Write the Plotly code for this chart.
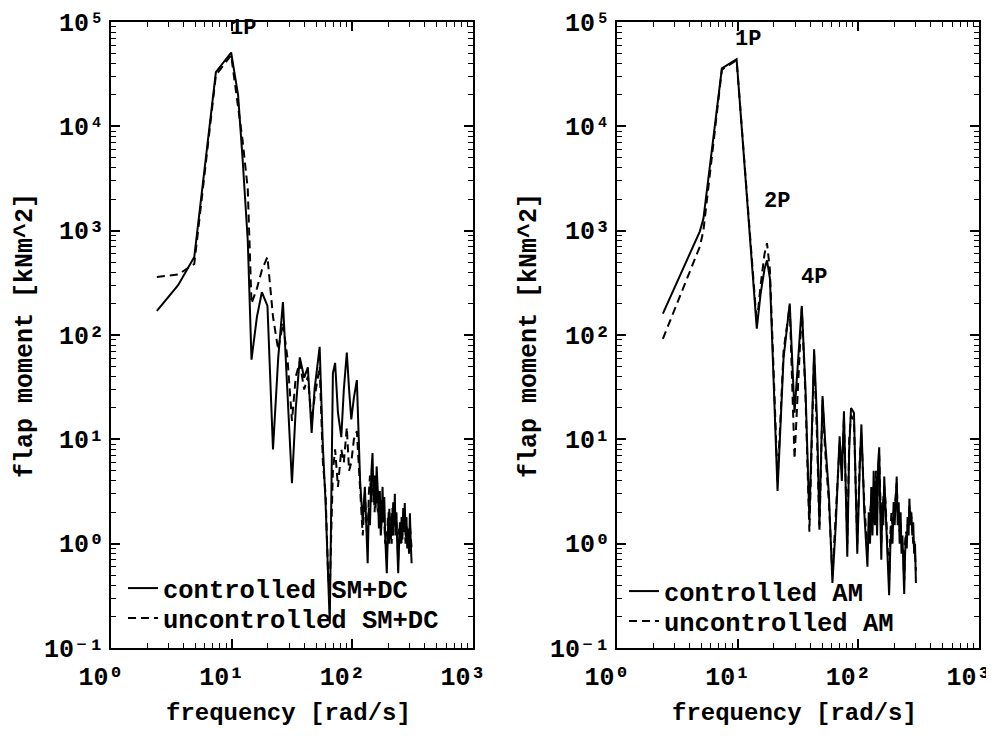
import numpy as np
import plotly.graph_objects as go

# ---------------- data ----------------
freq_left = [2.4, 3.6, 4.9, 7.4, 9.9, 11.3, 12.3, 13.6, 14.6, 16.2, 17.8, 19.8, 22.0, 24.3, 26.6,
             29.0, 31.6, 34.0, 36.7, 39.9, 42.8, 46.0, 48.6, 53.6, 57.0, 60.0, 63.0, 65.0, 69.0,
             72.0, 76.0, 81.0, 85.0, 90.0, 94.0, 98.0, 103.0, 109.0, 116.0, 122.0, 127.0, 132.0,
             134, 137, 140, 144, 147, 150, 153, 156, 159, 163, 166, 169, 172, 175, 178,
             181, 184, 187, 190, 193, 197, 200, 203, 206, 209, 212, 215, 218, 222, 225,
             228, 232, 236, 240, 244, 248, 252, 256, 260, 264, 268, 272, 276, 281, 285,
             290, 295, 300, 305, 310]
ctrl_left = [170, 300, 560, 33000, 51000, 20000, 5000, 800, 58, 150, 257, 190, 8, 60, 207,
             30, 3.8, 20, 61, 39, 49, 11.5, 30, 77, 8.5, 2.5, 0.5, 0.17, 43,
             54, 18, 10.5, 30, 68, 30, 15.5, 25, 37, 4, 1.6, 3.5, 1.2,
             0.65, 2.2, 1.5, 5, 7.4, 2.5, 4.5, 2.2, 5.5, 3.0, 1.4, 3.2, 1.2, 1.65, 3.5,
             1.6, 2.8, 1.2, 0.8, 0.52, 1.3, 2.0, 1.0, 1.6, 1.1, 1.96, 1.2, 2.5, 1.5, 3.0,
             1.2, 2.0, 0.9, 0.52, 1.0, 1.6, 1.0, 1.8, 1.1, 2.2, 1.3, 2.45, 1.2, 1.8, 0.9,
             1.4, 0.8, 1.96, 1.0, 0.65]
unctrl_left = [360, 380, 480, 31000, 48000, 15000, 7400, 2500, 200, 280, 420, 560, 150, 72, 130,
               60, 15, 40, 55, 30, 40, 15, 25, 50, 6, 3, 0.5, 0.35, 5,
               8, 3.5, 8, 6, 13, 5, 6, 10, 12, 3, 1.2, 3, 1.5,
               1.0, 3.0, 4.5, 2.5, 5, 3.5, 2.0, 4.2, 2.5, 2.0, 3.0, 1.5, 2.6, 2.5, 1.6,
               2.8, 1.4, 1.0, 1.3, 0.7, 1.8, 1.5, 2.2, 1.2, 1.8, 1.0, 2.2, 1.2, 2.5, 2.0,
               1.4, 1.6, 1.2, 0.7, 1.4, 1.2, 1.6, 1.0, 1.5, 1.3, 2.0, 1.6, 1.0, 1.5, 1.1,
               1.3, 1.0, 1.5, 1.2, 0.9]

freq_right = [2.4, 4.85, 5.2, 7.4, 9.8, 12.2, 14.4, 15.5, 16.7, 17.5, 18.5, 19.8, 21.4, 24.0,
              27.0, 29.6, 32.0, 34.0, 36.5, 39.3, 43.0, 45.5, 47.6, 50.5, 53.0, 57.0, 61.0,
              65.0, 70.0, 73.0, 76.0, 81.0, 84.0, 87.0, 92.0, 98.0, 103.0, 106.0, 112.0,
              119, 122, 125, 128, 131, 134, 137, 140, 143, 146, 149, 152, 155, 158, 161,
              164, 168, 172, 176, 180, 184, 188, 192, 196, 200, 204, 208, 212, 216, 220,
              224, 228, 232, 236, 240, 244, 248, 252, 256, 261, 265, 270, 275, 280, 285,
              290, 295, 300]
ctrl_right = [160, 980, 1300, 36000, 44000, 1600, 115, 250, 430, 520, 350, 40, 3.2, 60,
              200, 18, 60, 190, 30, 1.7, 73, 15, 1.5, 26, 10, 3, 0.42,
              1.5, 10.7, 4, 18.6, 0.75, 8, 20, 18, 0.8, 6, 13.9, 2,
              0.6, 2.0, 1.0, 3.5, 1.2, 5, 1.5, 4, 1.2, 6, 8.4, 2, 0.7, 2.5, 1.5,
              4.4, 2.0, 1.2, 0.6, 0.32, 0.9, 1.5, 1.0, 2.5, 1.5, 3.2, 4.4, 1.5, 2.5, 1.0,
              2.0, 0.8, 1.2, 0.6, 0.33, 0.8, 1.2, 0.9, 1.8, 1.2, 2.7, 1.5, 2.0, 1.2, 1.6,
              0.8, 1.0, 0.42]
unctrl_right = [92, 700, 1000, 35000, 43000, 1700, 130, 300, 600, 760, 420, 50, 4, 70,
                190, 6.5, 50, 180, 25, 1.3, 65, 10, 1.3, 24, 8, 2.5, 0.5,
                1.8, 9, 5, 16, 1.0, 10, 17, 15, 1.0, 7, 11, 2.5,
                0.8, 1.5, 2.0, 2.5, 1.6, 3.5, 2.5, 5, 2.0, 4, 7, 3, 1.0, 2.0, 2.5,
                3.5, 2.5, 1.5, 0.8, 0.45, 1.2, 2, 1.4, 2, 2.2, 2.8, 3.8, 2.0, 1.8, 1.3,
                1.6, 1.1, 1.0, 0.8, 0.45, 1.0, 1.3, 1.2, 1.5, 1.6, 2.3, 2.0, 1.8, 1.4, 1.0,
                1.1, 0.8, 0.55]

x_tickvals = [1, 10, 100, 1000]
x_ticktext = ["10⁰", "10¹", "10²", "10³"]
y_tickvals = [0.1, 1, 10, 100, 1000, 10000, 100000]
y_ticktext = ["10⁻¹", "10⁰", "10¹", "10²", "10³", "10⁴", "10⁵"]

peak_text_left = ["1P"]
peak_freq_left = [12.5]
peak_amp_left = [86000]
peak_text_right = ["1P", "2P", "4P"]
peak_freq_right = [12.2, 21.0, 43.3]
peak_amp_right = [68000, 1910, 358]

FONT = "Liberation Mono, Courier New, monospace"
W, H = 994, 745
OFF = 8  # page body margin of the html page, in px


def px_x(p):
    return (p - OFF) / W


def px_y(p):
    return 1 - (p - OFF) / H


fig = go.Figure()
solid = dict(color="black", width=2)
dashed = dict(color="black", width=2, dash="8px,5px")

fig.add_trace(go.Scatter(x=freq_left, y=ctrl_left, mode="lines", line=solid,
                         name="controlled SM+DC", xaxis="x", yaxis="y", legend="legend"))
fig.add_trace(go.Scatter(x=freq_left, y=unctrl_left, mode="lines", line=dashed,
                         name="uncontrolled SM+DC", xaxis="x", yaxis="y", legend="legend2"))
fig.add_trace(go.Scatter(x=freq_right, y=ctrl_right, mode="lines", line=solid,
                         name="controlled AM", xaxis="x2", yaxis="y2", legend="legend3"))
fig.add_trace(go.Scatter(x=freq_right, y=unctrl_right, mode="lines", line=dashed,
                         name="uncontrolled AM", xaxis="x2", yaxis="y2", legend="legend4"))

minor_x = [m * 10 ** e for e in range(0, 3) for m in range(2, 10)]
minor_y = [m * 10 ** e for e in range(-1, 5) for m in range(2, 10)]


def axis_common(minor_vals):
    return dict(type="log", showline=True, linecolor="black", linewidth=2,
                mirror="allticks", ticks="inside", ticklen=9, tickwidth=1.5,
                tickcolor="black", showgrid=False, zeroline=False, automargin=False,
                ticklabeloverflow="allow",
                minor=dict(ticks="inside", ticklen=5, tickwidth=1.2, tickcolor="black",
                           tickmode="array", tickvals=minor_vals, showgrid=False),
                tickfont=dict(family=FONT, size=25, color="black", weight="bold"))


xd1 = [px_x(111), px_x(473)]
xd2 = [px_x(617), px_x(979)]
yd = [px_y(648), px_y(22)]

leg_font = dict(family=FONT, size=25.5, color="black", weight="bold")


def leg(xp, yp):
    return dict(x=px_x(xp), y=px_y(yp), xanchor="left", yanchor="top",
                bgcolor="rgba(0,0,0,0)", borderwidth=0, itemwidth=30, tracegroupgap=0,
                font=leg_font)


fig.update_layout(
    width=W, height=H,
    margin=dict(l=0, r=0, t=0, b=0),
    paper_bgcolor="white", plot_bgcolor="white",
    xaxis=dict(axis_common(minor_x), domain=xd1, range=[0, 3], anchor="y",
               tickmode="array", tickvals=x_tickvals, ticktext=x_ticktext,
               ticklabelshift=-10, ticklabelstandoff=5),
    yaxis=dict(axis_common(minor_y), domain=yd, range=[-1, 5], anchor="x",
               tickmode="array", tickvals=y_tickvals, ticktext=y_ticktext),
    xaxis2=dict(axis_common(minor_x), domain=xd2, range=[0, 3], anchor="y2",
                tickmode="array", tickvals=x_tickvals, ticktext=x_ticktext,
                ticklabelshift=-10, ticklabelstandoff=5),
    yaxis2=dict(axis_common(minor_y), domain=yd, range=[-1, 5], anchor="x2",
                tickmode="array", tickvals=y_tickvals, ticktext=y_ticktext),
    legend=leg(123, 565),
    legend2=leg(123, 595),
    legend3=leg(624, 568),
    legend4=leg(624, 598),
    showlegend=True,
)

lab_font = dict(family=FONT, size=22, color="black", weight="bold")
for t, f, a in zip(peak_text_left, peak_freq_left, peak_amp_left):
    fig.add_annotation(x=np.log10(f), y=np.log10(a), xref="x", yref="y", text=t,
                       showarrow=False, font=lab_font, xanchor="center", yanchor="middle")
for t, f, a in zip(peak_text_right, peak_freq_right, peak_amp_right):
    fig.add_annotation(x=np.log10(f), y=np.log10(a), xref="x2", yref="y2", text=t,
                       showarrow=False, font=lab_font, xanchor="center", yanchor="middle")

ytitle_font = dict(family=FONT, size=25, color="black", weight="bold")
xtitle_font = dict(family=FONT, size=24, color="black", weight="bold")
for xc in (25, 529):
    fig.add_annotation(x=px_x(xc), y=px_y(336), xref="paper", yref="paper",
                       text="flap moment [kNm^2]", textangle=-90, showarrow=False,
                       font=ytitle_font, xanchor="center", yanchor="middle")
for xc in (288, 794):
    fig.add_annotation(x=px_x(xc), y=px_y(713), xref="paper", yref="paper",
                       text="frequency [rad/s]", showarrow=False, font=xtitle_font,
                       xanchor="center", yanchor="middle")

fig.write_html("out.html")
